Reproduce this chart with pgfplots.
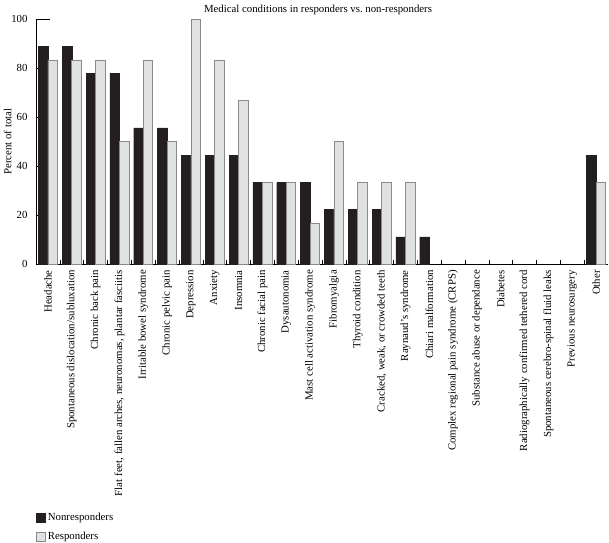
\documentclass[border=0pt]{standalone}
\usepackage{pgfplots}
\pgfplotsset{compat=1.18}
\usepackage{fontspec}
\setmainfont{Liberation Serif}
\definecolor{nonresp}{HTML}{231F20}
\definecolor{respfill}{HTML}{E0E1E2}
\definecolor{respedge}{HTML}{8A8A8A}
\newcommand{\lblfont}{\fontsize{10.8}{12}\selectfont}
\begin{document}
\begin{tikzpicture}
\path[use as bounding box] (-36pt,-278pt) rectangle (573pt,264pt);
\begin{axis}[
  name=ax,
  at={(0,0)}, anchor=south west,
  scale only axis,
  width=572pt, height=245pt,
  xmin=-0.5, xmax=23.5, ymin=0, ymax=100,
  axis x line*=bottom, axis y line*=left,
  axis line style={-, black, line width=0.7pt},
  xtick={0,...,23},
  xticklabels={Headache,
    Spontaneous dislocation/subluxation,
    Chronic back pain,
    {Flat feet, fallen arches, neuronomas, plantar fasciitis},
    Irritable bowel syndrome,
    Chronic pelvic pain,
    Depression,
    Anxiety,
    Insomnia,
    Chronic facial pain,
    Dysautonomia,
    Mast cell activation syndrome,
    Fibromyalgia,
    Thyroid condition,
    {Cracked, weak, or crowded teeth},
    Raynaud’s syndrome,
    Chiari malformation,
    Complex regional pain syndrome (CRPS),
    Substance abuse or dependance,
    Diabetes,
    Radiographically confirmed tethered cord,
    Spontaneous cerebro-spinal fluid leaks,
    Previous neurosurgery,
    Other},
  major x tick style={draw=none},
  minor xtick={0.5,1.5,...,22.5},
  minor tick length=4pt,
  major tick length=14pt,
  tick style={black, line width=0.6pt},
  tick align=inside,
  xticklabel style={yshift=-5pt, rotate=90, anchor=east, font=\lblfont, inner sep=1pt},
  ytick={0,20,...,100},
  yticklabel style={font=\lblfont, xshift=-5pt},
  /pgf/number format/assume math mode=true,
  ylabel={Percent of total},
  ylabel style={font=\lblfont, yshift=-7pt},
  title={Medical conditions in responders vs.\ non-responders},
  title style={font=\lblfont, at={(0.5,1)}, anchor=south, yshift=-5pt, xshift=-4pt},
  legend style={at={(0,0)}, anchor=north west, xshift=-3pt, yshift=-245pt,
    draw=none, fill=none, font=\lblfont, row sep=6pt},
  legend cell align=left,
]
\addplot[ybar, bar width=0.4, bar shift=-0.2, fill=nonresp, draw=nonresp, line width=0.4pt,
  legend image code/.code={\draw[fill=nonresp, draw=nonresp] (0pt,-4.5pt) rectangle (9pt,4.5pt);}]
  coordinates {(0,88.9) (1,88.9) (2,77.8) (3,77.8) (4,55.6) (5,55.6) (6,44.4) (7,44.4)
    (8,44.4) (9,33.3) (10,33.3) (11,33.3) (12,22.2) (13,22.2) (14,22.2) (15,11.1)
    (16,11.1) (23,44.4)};
\addlegendentry{Nonresponders}
\addplot[ybar, bar width=0.4, bar shift=0.2, fill=respfill, draw=respedge, line width=0.7pt,
  legend image code/.code={\draw[fill=respfill, draw=respedge, line width=0.7pt] (0pt,-4.5pt) rectangle (9pt,4.5pt);}]
  coordinates {(0,83.3) (1,83.3) (2,83.3) (3,50) (4,83.3) (5,50) (6,100) (7,83.3)
    (8,66.7) (9,33.3) (10,33.3) (11,16.7) (12,50) (13,33.3) (14,33.3) (15,33.3)
    (23,33.3)};
\addlegendentry{Responders}
\end{axis}
\end{tikzpicture}
\end{document}
